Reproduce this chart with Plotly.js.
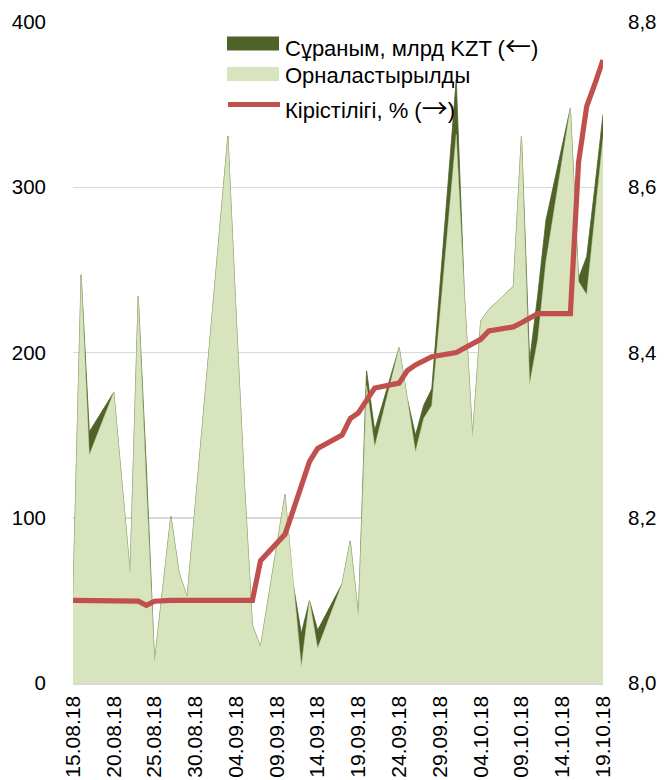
<!DOCTYPE html>
<html>
<head>
<meta charset="utf-8">
<script src="https://cdn.plot.ly/plotly-3.0.1.min.js"></script>
<style>
html,body{margin:0;padding:0;background:#fff;}
#chart{width:664px;height:780px;}
</style>
</head>
<body>
<div id="chart"></div>
<script>
// Auction dates (business days)
const dates = ['2018-08-15','2018-08-16','2018-08-17','2018-08-20','2018-08-22','2018-08-23','2018-08-24','2018-08-25','2018-08-27','2018-08-28','2018-08-29',
  '2018-09-03','2018-09-04','2018-09-05','2018-09-06','2018-09-07','2018-09-10','2018-09-11','2018-09-12','2018-09-13','2018-09-14',
  '2018-09-17','2018-09-18','2018-09-19','2018-09-20','2018-09-21','2018-09-24','2018-09-25','2018-09-26','2018-09-27','2018-09-28',
  '2018-10-01','2018-10-02','2018-10-03','2018-10-04','2018-10-05','2018-10-08','2018-10-09','2018-10-10','2018-10-11','2018-10-12',
  '2018-10-15','2018-10-16','2018-10-17','2018-10-18','2018-10-19'];

// Сұраным, млрд KZT (demand)
const demand = [52,247,152,176,67,234,130,13,101,67,52,
  331,223,123,35,22,114,60,30,50,32,
  60,86,41,189,153,203,172,150,168,178,
  365,235,149,219,226,240,331,195,235,280,
  348,245,258,300,344];

// Орналастырылды (placed)
const placed = [52,247,138,176,67,234,120,13,101,67,52,
  331,223,123,35,22,114,60,10,50,21,
  60,86,41,180,143,203,172,140,160,168,
  332,235,149,219,226,240,331,181,208,255,
  348,243,235,283,330];

// Кірістілігі, % (yield)
const yieldPct = [8.100,8.100,8.100,8.100,8.100,8.099,8.094,8.099,8.100,8.100,8.100,
  8.100,8.100,8.100,8.100,8.148,8.180,8.209,8.239,8.268,8.284,
  8.300,8.320,8.327,8.342,8.357,8.363,8.378,8.385,8.390,8.395,
  8.400,8.405,8.410,8.416,8.426,8.431,8.436,8.441,8.447,8.447,
  8.447,8.630,8.698,8.725,8.754];

const xTickVals = ['2018-08-15','2018-08-20','2018-08-25','2018-08-30','2018-09-04','2018-09-09','2018-09-14',
  '2018-09-19','2018-09-24','2018-09-29','2018-10-04','2018-10-09','2018-10-14','2018-10-19'];
const xTickText = ['15.08.18','20.08.18','25.08.18','30.08.18','04.09.18','09.09.18','14.09.18',
  '19.09.18','24.09.18','29.09.18','04.10.18','09.10.18','14.10.18','19.10.18'];
const yTickVals = [0,100,200,300,400];
const y2TickVals = [8.0,8.2,8.4,8.6,8.8];
const y2TickText = ['8,0','8,2','8,4','8,6','8,8'];
const ARW = 'font-family:Noto Sans CJK JP;font-size:26px';
const legendNames = ['Сұраным, млрд KZT (<span style="' + ARW + '">←</span>)',
  'Орналастырылды',
  'Кірістілігі, % (<span style="' + ARW + '">→</span>)'];

const FONT = 'Liberation Sans, Arial, sans-serif';
const cDark = '#4f6228', cLight = '#d7e4bd', cRed = '#c0504d';

const traces = [
  {x: dates, y: demand, type:'scatter', mode:'lines', fill:'tozeroy',
   fillcolor:cDark, line:{color:cDark, width:0.8}, name:'Сұраным, млрд KZT (←)', showlegend:false},
  {x: dates, y: placed, type:'scatter', mode:'lines', fill:'tozeroy',
   fillcolor:cLight, line:{color:'#c6d9a4', width:0.5}, name:'Орналастырылды', showlegend:false},
  {x: dates, y: yieldPct, type:'scatter', mode:'lines', yaxis:'y2',
   line:{color:cRed, width:5.2}, name:'Кірістілігі, % (→)', showlegend:false}
];

// plot area in px: x 73..603, y 22..683
function px(x){return (x-73)/530;}
function py(y){return (683-y)/661;}

const layout = {
  width:664, height:780,
  margin:{l:73, r:61, t:22, b:97},
  paper_bgcolor:'#ffffff', plot_bgcolor:'#ffffff',
  font:{family:FONT, size:20.5, color:'#000000'},
  showlegend:false,
  xaxis:{type:'date', range:['2018-08-15','2018-10-19'], tickvals:xTickVals, ticktext:xTickText,
    tickangle:-90, showgrid:false, zeroline:false, showline:true, linecolor:'#d9d9d9', linewidth:1.5,
    ticks:'', ticklabelstandoff:3, tickfont:{family:FONT, size:21, color:'#000'}},
  yaxis:{range:[0,400], tickvals:yTickVals, showgrid:true, gridcolor:'#d9d9d9', gridwidth:1.5,
    zeroline:false, showline:false, ticks:'', ticklabelstandoff:26,
    tickfont:{family:FONT, size:20.5, color:'#000'}},
  yaxis2:{range:[8.0,8.8], overlaying:'y', side:'right', tickvals:y2TickVals, ticktext:y2TickText,
    showgrid:false, zeroline:false, showline:false, ticks:'', ticklabelstandoff:24,
    tickfont:{family:FONT, size:20.5, color:'#000'}},
  shapes:[
    {type:'rect', xref:'paper', yref:'paper', x0:px(227), x1:px(279), y0:py(50.5), y1:py(36.5),
     fillcolor:cDark, line:{width:0}, layer:'below'},
    {type:'rect', xref:'paper', yref:'paper', x0:px(227), x1:px(279), y0:py(81), y1:py(67),
     fillcolor:cLight, line:{width:0}, layer:'below'},
    {type:'line', xref:'paper', yref:'paper', x0:px(228), x1:px(280), y0:py(104.5), y1:py(104.5),
     line:{color:cRed, width:5}, layer:'below'}
  ],
  annotations:[
    {xref:'paper', yref:'paper', x:px(283), y:py(44), text:legendNames[0], showarrow:false,
     xanchor:'left', yanchor:'middle', font:{family:FONT, size:22, color:'#000'}},
    {xref:'paper', yref:'paper', x:px(283), y:py(75), text:legendNames[1], showarrow:false,
     xanchor:'left', yanchor:'middle', font:{family:FONT, size:22, color:'#000'}},
    {xref:'paper', yref:'paper', x:px(283), y:py(106), text:legendNames[2], showarrow:false,
     xanchor:'left', yanchor:'middle', font:{family:FONT, size:22, color:'#000'}}
  ]
};

Plotly.newPlot('chart', traces, layout, {displayModeBar:false, staticPlot:true});
</script>
</body>
</html>
